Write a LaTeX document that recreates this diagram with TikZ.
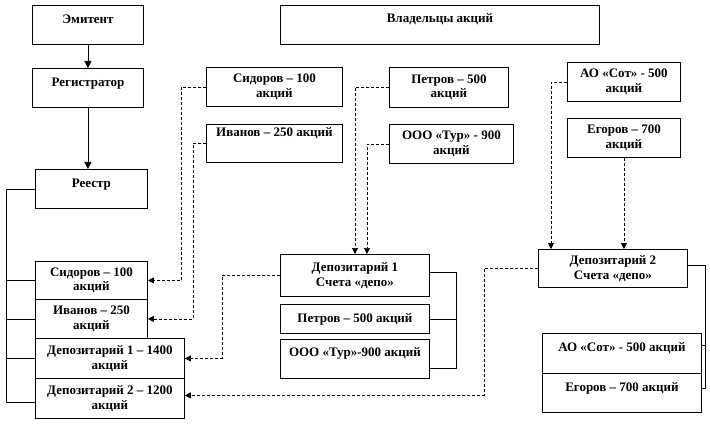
\documentclass[tikz,border=0pt]{standalone}
\usepackage{fontspec}
\setmainfont{Liberation Serif}
\usetikzlibrary{arrows.meta,calc}
\begin{document}
\begin{tikzpicture}[x=1pt,y=-1pt,
  box/.style={draw, line width=0.9pt, inner sep=0pt, anchor=north west,
    font=\bfseries\fontsize{13}{14.5}\selectfont, align=center},
  conn/.style={line width=0.7pt},
  solidarrow/.style={line width=0.7pt, -{Triangle[width=7pt,length=7pt]}},
  dasharrow/.style={line width=0.7pt, dash pattern=on 3pt off 2pt, -{Triangle[width=6pt,length=6pt]}}
]
\useasboundingbox (0,0) rectangle (710,433);
% boxes
\node[box, minimum width=111pt, minimum height=39pt, text height=18pt, text depth=21pt] (em) at (32,5) {Эмитент};
\node[box, minimum width=111pt, minimum height=39pt, text height=18.5pt, text depth=20.5pt] (reg) at (32,68) {Регистратор};
\node[box, minimum width=112pt, minimum height=39pt, text height=18.5pt, text depth=20.5pt] (reestr) at (35,169) {Реестр};
\node[box, minimum width=319pt, minimum height=39pt, text height=17pt, text depth=22pt] (own) at (280,5) {Владельцы акций};
\node[box, minimum width=136pt, minimum height=39pt] (sidT) at (206,67) {Сидоров – 100\\акций};
\node[box, minimum width=136pt, minimum height=38pt, text height=12.5pt, text depth=25.5pt] (ivT) at (206,124) {Иванов – 250 акций};
\node[box, minimum width=119pt, minimum height=40pt] (petT) at (389,67) {Петров – 500\\акций};
\node[box, minimum width=124pt, minimum height=39pt] (oooT) at (389,124) {ООО «Тур» - 900\\акций};
\node[box, minimum width=113pt, minimum height=39pt] (aoT) at (567,62) {АО «Сот» - 500\\акций};
\node[box, minimum width=113pt, minimum height=39pt] (egT) at (567,118) {Егоров – 700\\акций};
\node[box, minimum width=112pt, minimum height=38pt] (sidL) at (35,261) {Сидоров – 100\\акций};
\node[box, minimum width=112pt, minimum height=39pt] (ivL) at (35,299) {Иванов – 250\\акций};
\node[box, minimum width=149pt, minimum height=40pt] (d1L) at (35,338) {Депозитарий 1 – 1400\\акций};
\node[box, minimum width=149pt, minimum height=40pt] (d2L) at (35,378) {Депозитарий 2 – 1200\\акций};
\node[box, minimum width=149pt, minimum height=42pt] (dep1) at (280,254) {Депозитарий 1\\Счета «депо»};
\node[box, minimum width=149pt, minimum height=29pt] (petD) at (280,304) {Петров – 500 акций};
\node[box, minimum width=149pt, minimum height=39pt, text height=17.5pt, text depth=21.5pt] (oooD) at (280,339) {ООО «Тур»-900 акций};
\node[box, minimum width=149pt, minimum height=38pt] (dep2) at (538,249) {Депозитарий 2\\Счета «депо»};
\node[box, minimum width=159pt, minimum height=40pt, text height=18.5pt, text depth=21.5pt] (aoD) at (542,333) {АО «Сот» - 500 акций};
\node[box, minimum width=159pt, minimum height=39pt, text height=18.5pt, text depth=20.5pt] (egD) at (542,373) {Егоров – 700 акций};
% solid arrows
\draw[solidarrow] (em.south) -- (reg.north);
\draw[solidarrow] (reg.south) -- (reg.south |- reestr.north);
% left bracket
\coordinate (lb) at (6,402);
\draw[conn] (reestr.west) -| (lb) -- (d2L.west |- lb);
\draw[conn] (lb |- sidL.west) -- (sidL.west);
\draw[conn] (lb |- ivL.west) -- (ivL.west);
\draw[conn] (lb |- d1L.west) -- (d1L.west);
% right bracket dep1
\coordinate (rb1) at (456,272);
\draw[conn] (dep1.east |- rb1) -- (rb1) -- ++(0,96) -- (oooD.east |- 0,368);
\draw[conn] (rb1 |- petD.east) -- (petD.east);
% right bracket dep2
\coordinate (rb2) at (705,265);
\draw[conn] (dep2.east |- rb2) -- (rb2) -- ++(0,123) -- (egD.east |- 0,388);
\draw[conn] (705,345) -- (aoD.east |- 0,345);
% dashed connectors
\draw[dasharrow] (sidT.west) -- ++(-25,0) |- (sidL.east);
\draw[dasharrow] (ivT.west) -- ++(-13,0) |- (ivL.east);
\draw[dasharrow] (petT.west) -| (dep1.north);
\draw[dasharrow] (oooT.west) -| ($(dep1.north)+(12,0)$);
\draw[dasharrow] (dep1.west) -- ++(-58,0) |- (d1L.east);
\draw[dasharrow] (aoT.west) -| ($(dep2.north west)+(13,0)$);
\draw[dasharrow] (egT.south) -- (egT.south |- dep2.north);
\draw[dasharrow] (dep2.west) -- ++(-54,0) |- ($(d2L.east)+(0,-3)$);
\end{tikzpicture}
\end{document}
